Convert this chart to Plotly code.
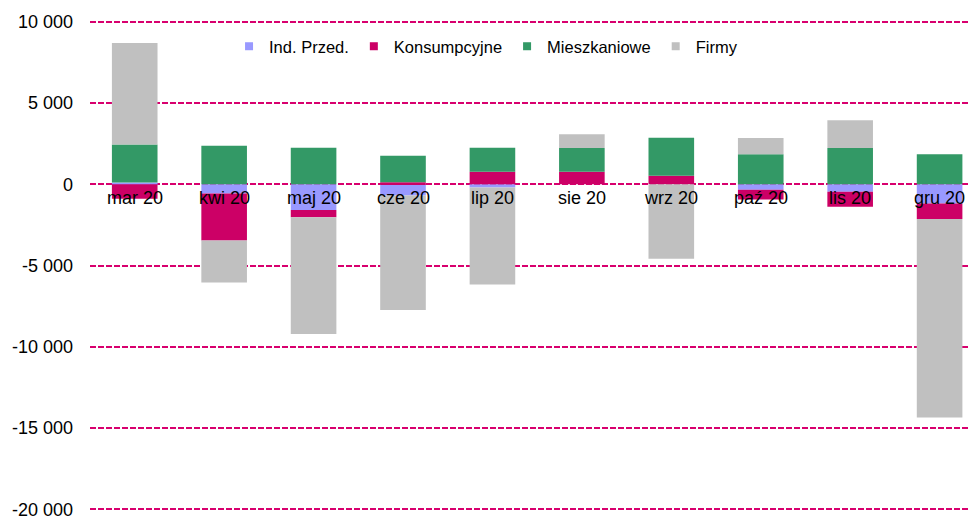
import plotly.graph_objects as go

categories = ["mar 20", "kwi 20", "maj 20", "cze 20", "lip 20", "sie 20", "wrz 20", "paź 20", "lis 20", "gru 20"]
ind_przed = [100, -565, -1580, -690, -200, 0, 0, -340, -460, -1180]
konsumpcyjne = [-900, -2900, -450, 120, 770, 770, 520, -595, -920, -960]
mieszkaniowe = [2350, 2360, 2240, 1630, 1470, 1450, 2330, 1850, 2220, 1850]
firmy = [6230, -2580, -7180, -7050, -5970, 860, -4590, 985, 1720, -12210]

series_names = ["Ind. Przed.", "Konsumpcyjne", "Mieszkaniowe", "Firmy"]
series_values = [ind_przed, konsumpcyjne, mieszkaniowe, firmy]
colors = ["#9999FF", "#CC0066", "#339966", "#C0C0C0"]

tick_vals = [10000, 5000, 0, -5000, -10000, -15000, -20000]
tick_text = ["10 000", "5 000", "0", "-5 000", "-10 000", "-15 000", "-20 000"]

FONT = "Liberation Sans, Arial, sans-serif"

fig = go.Figure()
for name, vals, col in zip(series_names, series_values, colors):
    fig.add_trace(go.Bar(x=categories, y=vals, name=name, marker=dict(color=col, line=dict(width=0)),
                         showlegend=False))
    fig.add_trace(go.Scatter(x=[None], y=[None], mode="markers", name=name,
                             marker=dict(symbol="square", size=8, color=col)))

for c in categories:
    fig.add_annotation(x=c, y=0, text=c, showarrow=False, yanchor="middle", yshift=-14,
                       font=dict(family=FONT, size=18, color="#000"))

fig.update_layout(
    width=970, height=522,
    margin=dict(l=90, r=0, t=20, b=11),
    barmode="relative",
    bargap=0.49,
    plot_bgcolor="white", paper_bgcolor="white",
    font=dict(family=FONT, size=18, color="#000"),
    legend=dict(orientation="h", x=0.158, xanchor="left", y=0.946, yanchor="middle",
                font=dict(family=FONT, size=16.5, color="#000"), bgcolor="rgba(0,0,0,0)",
                itemwidth=30, tracegroupgap=0),
    xaxis=dict(showticklabels=False, showgrid=False, zeroline=False, showline=False,
               range=[-0.5, 9.34], fixedrange=True),
    yaxis=dict(range=[-20100, 10100], tickvals=tick_vals, ticktext=tick_text,
               showgrid=True, gridcolor="#D8006E", gridwidth=2, griddash="6px,2px",
               zeroline=False, showline=False, ticklabelstandoff=16,
               tickfont=dict(family=FONT, size=18, color="#000")),
)

fig.write_html("out.html", config={"displayModeBar": False},
               post_script="document.body.style.margin='0';document.body.style.padding='0';")
